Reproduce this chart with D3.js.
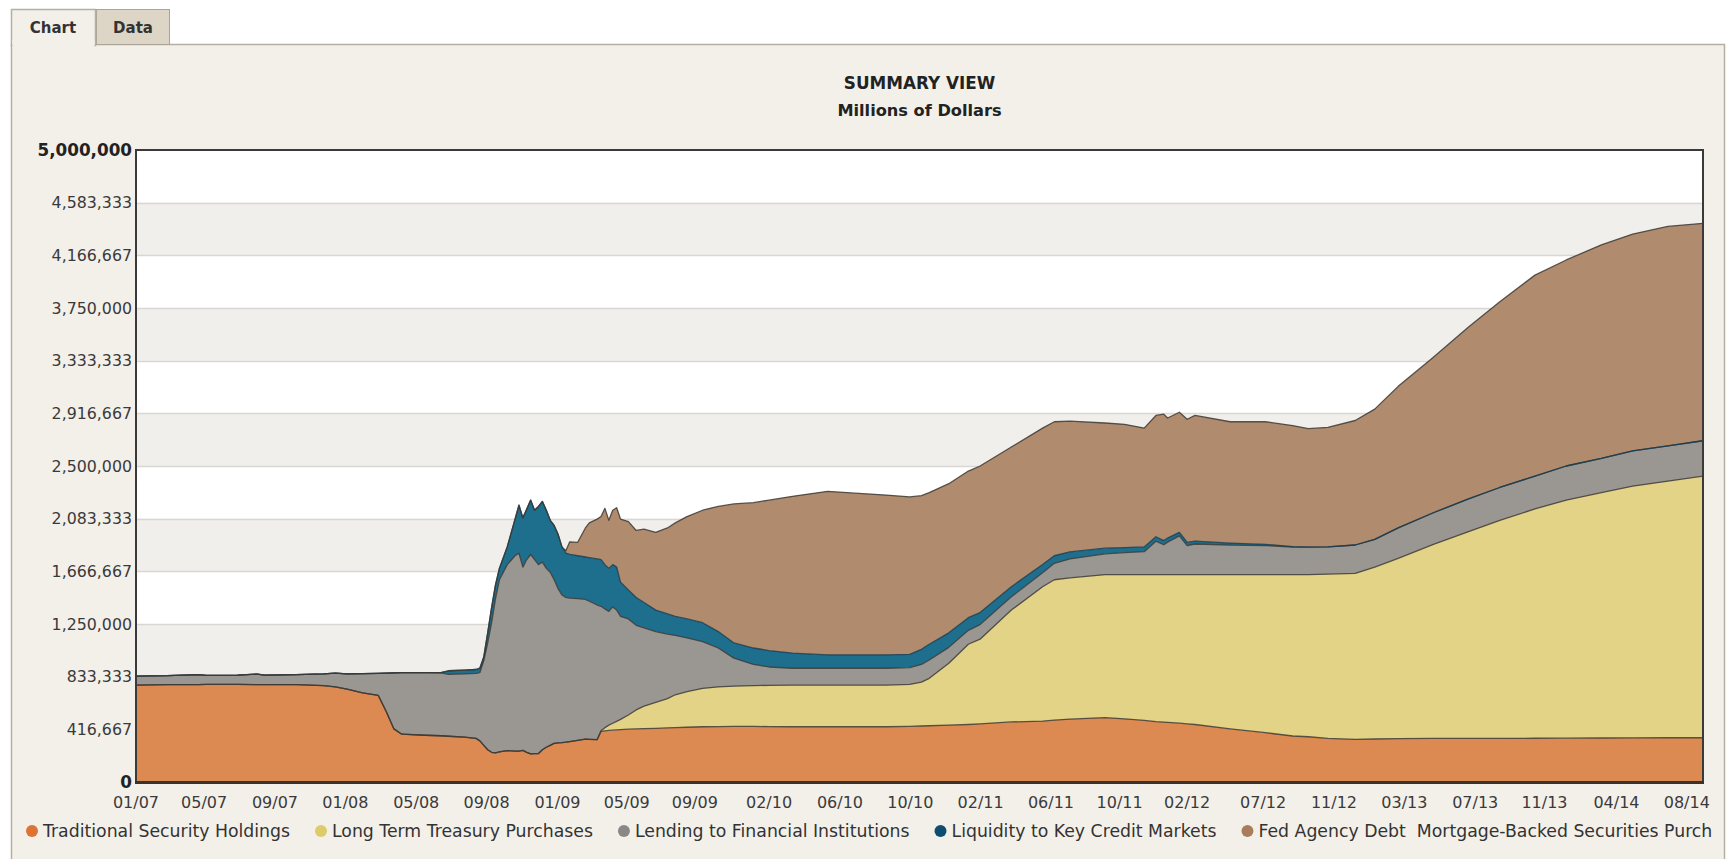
<!DOCTYPE html>
<html>
<head>
<meta charset="utf-8">
<script src="https://cdn.jsdelivr.net/npm/d3@7"></script>
<style>
  html, body { margin: 0; padding: 0; background: #fff; }
  svg { display: block; font-family: 'DejaVu Sans', Verdana, sans-serif; }
</style>
</head>
<body>
<div id="chart"></div>
<script>
// weekly readings (billions of dollars, converted to millions below)
const dates = [
  '2007-01-03','2007-02-28','2007-04-25','2007-05-09','2007-07-04','2007-08-08','2007-08-22','2007-10-17','2007-12-05','2007-12-26',
  '2008-01-16','2008-02-13','2008-03-12','2008-03-26','2008-04-09','2008-04-23','2008-06-04','2008-07-02','2008-07-16','2008-08-13',
  '2008-09-03','2008-09-10','2008-09-17','2008-09-24','2008-10-01','2008-10-08','2008-10-15','2008-10-29','2008-11-12','2008-11-19',
  '2008-11-26','2008-12-03','2008-12-10','2008-12-17','2008-12-24','2008-12-31','2009-01-07','2009-01-14','2009-01-21','2009-01-28',
  '2009-02-04','2009-02-11','2009-02-18','2009-03-04','2009-03-18','2009-03-25','2009-04-08','2009-04-15','2009-04-22','2009-04-29',
  '2009-05-06','2009-05-13','2009-05-20','2009-06-03','2009-06-17','2009-07-01','2009-07-22','2009-08-12','2009-08-26','2009-09-16',
  '2009-10-14','2009-11-11','2009-12-09','2010-01-13','2010-02-10','2010-03-24','2010-05-26','2010-07-14','2010-09-08','2010-10-20',
  '2010-11-10','2010-11-24','2010-12-29','2011-02-02','2011-02-23','2011-04-20','2011-06-15','2011-07-06','2011-08-03','2011-10-05',
  '2011-11-09','2011-12-14','2012-01-04','2012-01-18','2012-01-25','2012-02-15','2012-02-29','2012-03-14','2012-05-16','2012-07-18',
  '2012-09-05','2012-10-03','2012-11-07','2012-12-26','2013-01-30','2013-03-13','2013-05-15','2013-07-17','2013-09-11','2013-11-13',
  '2014-01-08','2014-03-12','2014-05-07','2014-07-09','2014-09-10'
];

const traditional = [
  767,770,771,772,772,771,770,770,762,752,
  735,705,685,560,420,378,370,366,362,355,
  345,325,290,255,235,230,238,248,245,245,
  250,235,222,225,225,255,275,290,305,310,
  312,315,320,330,340,338,335,400,405,408,
  410,412,414,418,420,423,425,428,430,433,
  437,438,440,440,438,437,437,437,437,440,
  443,445,450,455,460,475,482,490,498,510,
  500,488,478,474,472,465,460,455,420,390,
  364,358,345,338,340,343,345,345,345,346,
  347,348,349,350,350
];

const longTermTreasury = [
  0,0,0,0,0,0,0,0,0,0,
  0,0,0,0,0,0,0,0,0,0,
  0,0,0,0,0,0,0,0,0,0,
  0,0,0,0,0,0,0,0,0,0,
  0,0,0,0,0,0,0,5,25,42,
  55,68,81,112,150,177,205,232,260,282,
  303,314,318,322,327,330,330,330,330,332,
  347,375,490,635,670,885,1063,1110,1117,1130,
  1140,1152,1162,1166,1168,1175,1180,1185,1220,1250,
  1276,1282,1300,1312,1360,1427,1535,1635,1725,1814,
  1883,1942,1991,2030,2070
];

const lending = [
  71,71,79,71,73,83,76,80,93,110,
  121,153,175,302,444,488,496,498,490,500,
  515,541,670,845,1025,1220,1362,1472,1545,1565,
  1450,1525,1578,1535,1495,1485,1415,1370,1295,1220,
  1168,1145,1135,1120,1105,1092,1065,985,940,900,
  920,880,815,760,670,620,560,510,470,425,
  370,308,222,168,145,133,133,133,133,133,
  140,145,125,110,115,105,110,130,150,165,
  175,182,265,237,258,307,230,243,234,230,
  219,218,215,225,220,240,250,260,260,260,
  270,270,280,280,280
];

const liquidity = [
  0,0,0,0,0,0,0,0,0,0,
  0,0,0,0,0,0,0,2,28,30,
  30,34,30,80,120,110,90,140,290,380,
  390,400,430,390,460,480,460,410,430,430,
  380,350,345,340,335,345,365,370,350,340,
  335,340,270,230,220,200,170,160,150,150,
  150,130,120,130,130,120,105,105,105,105,
  120,125,115,100,95,80,65,60,55,45,
  40,38,35,33,32,28,25,22,16,10,
  3,0,0,0,0,0,0,0,0,0,
  0,0,0,0,0
];

const agencyMbs = [
  0,0,0,0,0,0,0,0,0,0,
  0,0,0,0,0,0,0,0,0,0,
  0,0,0,0,0,0,0,0,0,0,
  0,0,0,0,0,0,0,0,0,0,
  0,20,100,105,230,275,315,340,445,380,
  430,470,500,540,530,580,615,680,740,810,
  890,990,1100,1150,1190,1240,1295,1280,1265,1245,
  1215,1200,1180,1160,1160,1105,1080,1060,1035,990,
  975,940,960,1000,950,950,975,995,960,970,
  958,937,945,985,1030,1120,1230,1360,1470,1590,
  1630,1690,1715,1735,1720
];

const seriesKeys = ['traditional', 'longTerm', 'lending', 'liquidity', 'agency'];
const seriesNames = [
  'Traditional Security Holdings',
  'Long Term Treasury Purchases',
  'Lending to Financial Institutions',
  'Liquidity to Key Credit Markets',
  'Fed Agency Debt  Mortgage-Backed Securities Purch'
];
const seriesColors = ['#dd8a52', '#e3d387', '#9a9692', '#1e6f8e', '#b08b6e'];
const legendColors = ['#dc7433', '#dccb68', '#8a8886', '#0f4c70', '#a87d5e'];

const tickDates = [
  '2007-01-03','2007-05-05','2007-09-09','2008-01-13','2008-05-19','2008-09-22','2009-01-27','2009-05-31',
  '2009-09-30','2010-02-10','2010-06-17','2010-10-21','2011-02-24','2011-06-30','2011-10-31','2012-02-29',
  '2012-07-14','2012-11-18','2013-03-24','2013-07-29','2013-11-30','2014-04-08','2014-08-12'
];
const yMax = 5000000;
const yDivisions = 12;
const tabLabels = ['Chart', 'Data'];
const title = 'SUMMARY VIEW';
const subtitle = 'Millions of Dollars';

const toMillions = 1000;
const width = 1728;
const height = 859;
const margin = { top: 150, right: 25, bottom: 77, left: 136 };
const plotW = width - margin.left - margin.right;
const plotH = height - margin.top - margin.bottom;

const parseDate = d3.timeParse('%Y-%m-%d');
const formatTick = d3.timeFormat('%m/%y');
const formatValue = d3.format(',.0f');

const table = dates.map((d, i) => ({
  date: parseDate(d),
  traditional: traditional[i] * toMillions,
  longTerm: longTermTreasury[i] * toMillions,
  lending: lending[i] * toMillions,
  liquidity: liquidity[i] * toMillions,
  agency: agencyMbs[i] * toMillions,
}));

const stacked = d3.stack().keys(seriesKeys)(table);

const x = d3.scaleTime()
  .domain(d3.extent(table, d => d.date))
  .range([margin.left, margin.left + plotW]);

const y = d3.scaleLinear()
  .domain([0, yMax])
  .range([margin.top + plotH, margin.top]);

const yTicks = d3.range(yDivisions + 1).map(i => i * yMax / yDivisions);

const svg = d3.select('#chart')
  .append('svg')
  .attr('width', width)
  .attr('height', height);

svg.append('rect')
  .attr('width', width)
  .attr('height', height)
  .attr('fill', '#ffffff');

// panel and tabs
svg.append('rect')
  .attr('x', 11.5)
  .attr('y', 44.5)
  .attr('width', 1713)
  .attr('height', height)
  .attr('fill', '#f3f0ea')
  .attr('stroke', '#b5aea3')
  .attr('stroke-width', 1.5);

svg.append('rect')
  .attr('x', 96.5)
  .attr('y', 9.5)
  .attr('width', 73)
  .attr('height', 35)
  .attr('fill', '#ddd5c5')
  .attr('stroke', '#aca496');

svg.append('rect')
  .attr('x', 11.5)
  .attr('y', 9.5)
  .attr('width', 84)
  .attr('height', 36)
  .attr('fill', '#f3f0ea')
  .attr('stroke', '#b5aea3')
  .attr('stroke-width', 1.5);

svg.append('rect')
  .attr('x', 12.5)
  .attr('y', 40)
  .attr('width', 82)
  .attr('height', 8)
  .attr('fill', '#f3f0ea');

svg.selectAll('.tab-label')
  .data(tabLabels)
  .enter()
  .append('text')
  .attr('class', 'tab-label')
  .attr('x', (d, i) => i === 0 ? 53 : 133)
  .attr('y', 33)
  .attr('text-anchor', 'middle')
  .attr('font-size', '15px')
  .attr('font-weight', 'bold')
  .attr('fill', '#333')
  .text(d => d);

// title
svg.append('text')
  .attr('x', margin.left + plotW / 2)
  .attr('y', 89)
  .attr('text-anchor', 'middle')
  .attr('font-size', '16.8px')
  .attr('font-weight', 'bold')
  .attr('fill', '#222')
  .text(title);

svg.append('text')
  .attr('x', margin.left + plotW / 2)
  .attr('y', 116)
  .attr('text-anchor', 'middle')
  .attr('font-size', '16.2px')
  .attr('font-weight', 'bold')
  .attr('fill', '#222')
  .text(subtitle);

// alternating bands
svg.selectAll('.band')
  .data(d3.range(yDivisions))
  .enter()
  .append('rect')
  .attr('class', 'band')
  .attr('x', margin.left)
  .attr('width', plotW)
  .attr('y', i => y(yTicks[i + 1]))
  .attr('height', i => y(yTicks[i]) - y(yTicks[i + 1]))
  .attr('fill', i => i % 2 === 0 ? '#f1efec' : '#ffffff');

svg.selectAll('.grid')
  .data(yTicks.slice(1, -1))
  .enter()
  .append('line')
  .attr('class', 'grid')
  .attr('x1', margin.left)
  .attr('x2', margin.left + plotW)
  .attr('y1', d => Math.round(y(d)) + 0.5)
  .attr('y2', d => Math.round(y(d)) + 0.5)
  .attr('stroke', '#d9d7d3')
  .attr('stroke-width', 1.5);

svg.append('clipPath')
  .attr('id', 'plot-clip')
  .append('rect')
  .attr('x', margin.left)
  .attr('y', margin.top)
  .attr('width', plotW)
  .attr('height', plotH);

const area = d3.area()
  .x(d => x(d.data.date))
  .y0(d => y(d[0]))
  .y1(d => y(d[1]));

const topLine = d3.line()
  .x(d => x(d.data.date))
  .y(d => y(d[1]));

const plot = svg.append('g').attr('clip-path', 'url(#plot-clip)');

plot.selectAll('.layer')
  .data(stacked)
  .enter()
  .append('path')
  .attr('class', 'layer')
  .attr('d', area)
  .attr('fill', (d, i) => seriesColors[i]);

plot.selectAll('.edge')
  .data(stacked)
  .enter()
  .append('path')
  .attr('class', 'edge')
  .attr('d', topLine)
  .attr('fill', 'none')
  .attr('stroke', (d, i) => i === 3 ? '#163d52' : '#3d3a35')
  .attr('stroke-width', 1.3)
  .attr('stroke-opacity', 0.85)
  .attr('stroke-linejoin', 'round');

// plot frame
svg.append('rect')
  .attr('x', margin.left)
  .attr('y', margin.top)
  .attr('width', plotW)
  .attr('height', plotH)
  .attr('fill', 'none')
  .attr('stroke', '#3a3a3a')
  .attr('stroke-width', 2);

svg.append('line')
  .attr('x1', margin.left - 1)
  .attr('x2', margin.left + plotW + 1)
  .attr('y1', margin.top + plotH + 0.5)
  .attr('y2', margin.top + plotH + 0.5)
  .attr('stroke', '#3b3229')
  .attr('stroke-width', 3);

// y labels
svg.selectAll('.y-label')
  .data(yTicks)
  .enter()
  .append('text')
  .attr('class', 'y-label')
  .attr('x', margin.left - 4)
  .attr('y', d => y(d))
  .attr('dy', '0.36em')
  .attr('text-anchor', 'end')
  .attr('font-size', (d, i) => (i === 0 || i === yDivisions) ? '16.8px' : '15.8px')
  .attr('font-weight', (d, i) => (i === 0 || i === yDivisions) ? 'bold' : 'normal')
  .attr('fill', (d, i) => (i === 0 || i === yDivisions) ? '#222' : '#3a3a3a')
  .text(d => formatValue(d));

// x labels
svg.selectAll('.x-label')
  .data(tickDates.map(parseDate))
  .enter()
  .append('text')
  .attr('class', 'x-label')
  .attr('x', d => x(d))
  .attr('y', 802)
  .attr('dy', '0.36em')
  .attr('text-anchor', 'middle')
  .attr('font-size', '16px')
  .attr('fill', '#3a3a3a')
  .text(d => formatTick(d));

// legend
const legend = svg.append('g');
let cursor = 32;
seriesNames.forEach((name, i) => {
  legend.append('circle')
    .attr('cx', cursor)
    .attr('cy', 831)
    .attr('r', 6)
    .attr('fill', legendColors[i]);
  const label = legend.append('text')
    .attr('x', cursor + 11)
    .attr('y', 831)
    .attr('dy', '0.36em')
    .attr('font-size', '17.3px')
    .attr('fill', '#333')
    .style('white-space', 'pre')
    .text(name);
  cursor += 11 + label.node().getComputedTextLength() + 31;
});
</script>
</body>
</html>
